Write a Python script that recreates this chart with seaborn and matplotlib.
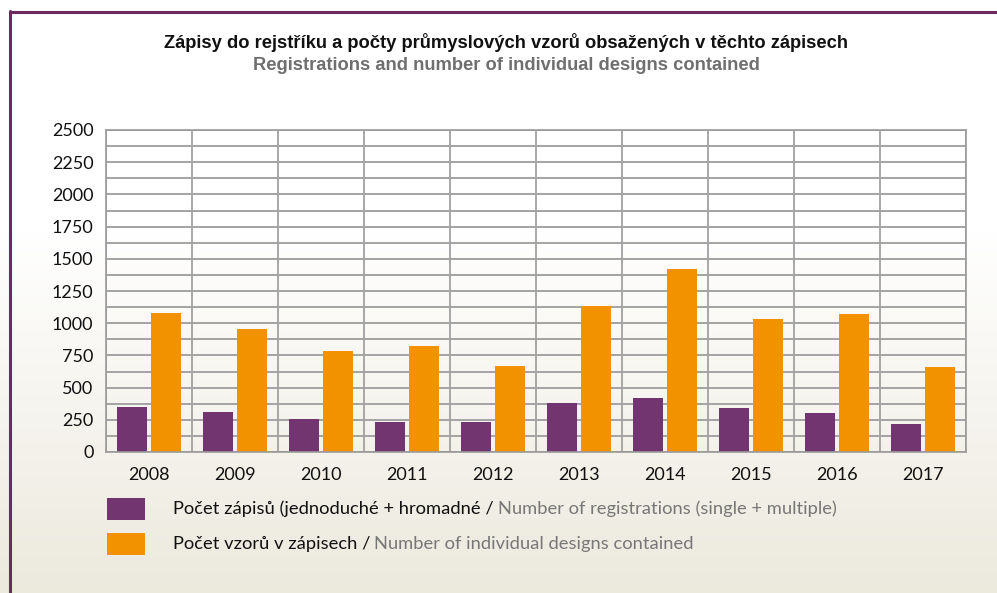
import matplotlib

matplotlib.use("Agg")
import matplotlib.pyplot as plt
import numpy as np
import pandas as pd
import seaborn as sns
from matplotlib.lines import Line2D
from matplotlib.patches import Rectangle

# Data
years = ["2008", "2009", "2010", "2011", "2012", "2013", "2014", "2015", "2016", "2017"]
registrations = [350, 311, 256, 235, 235, 383, 422, 344, 305, 220]
designs = [1079, 955, 787, 823, 668, 1134, 1423, 1035, 1074, 662]
series_names = ["registrations", "designs"]

title_cz = "Zápisy do rejstříku a počty průmyslových vzorů obsažených v těchto zápisech"
title_en = "Registrations and number of individual designs contained"
legend_cz = ["Počet zápisů (jednoduché + hromadné /", "Počet vzorů v zápisech /"]
legend_en = ["Number of registrations (single + multiple)", "Number of individual designs contained"]

purple = "#723570"
orange = "#f39200"
frame = "#6b2b60"
grid_col = "#a3a3a3"

sns.set_style("white")
plt.rcParams["font.family"] = ["Lato", "DejaVu Sans"]

df = pd.DataFrame(
    {
        "year": years * 2,
        "series": [series_names[0]] * len(years) + [series_names[1]] * len(years),
        "value": registrations + designs,
    }
)

fig = plt.figure(figsize=(9.97, 5.93), dpi=100)

# background gradient (white -> beige)
bg = fig.add_axes([0, 0, 1, 1], zorder=-10)
h = 593
rows = np.ones((h, 1, 3))
top = np.array([1.0, 1.0, 1.0])
bot = np.array([236, 233, 221]) / 255
for i in range(h):
    t = max(0.0, (i - 230) / (h - 230))
    rows[i, 0] = top * (1 - t) + bot * t
bg.imshow(rows, aspect="auto", extent=[0, 1, 0, 1], origin="upper")
bg.set_axis_off()

# purple frame (left + top)
fig.add_artist(Line2D([9.5 / 997, 9.5 / 997], [0, 1 - 11 / 593], color=frame, lw=2.2))
fig.add_artist(Line2D([9.5 / 997, 1], [1 - 11.5 / 593, 1 - 11.5 / 593], color=frame, lw=2.2))

ax = fig.add_axes([106 / 997, 1 - 452 / 593, 860 / 997, 322 / 593])
ax.patch.set_alpha(0)

sns.barplot(
    data=df,
    x="year",
    y="value",
    hue="series",
    hue_order=series_names,
    palette=[purple, orange],
    saturation=1,
    width=0.79,
    gap=0.09,
    linewidth=0,
    legend=False,
    ax=ax,
)

ax.set_xlim(-0.5, len(years) - 0.5)
ax.set_ylim(0, 2500)
ax.set_yticks(np.arange(0, 2501, 250))
ax.set_yticks(np.arange(0, 2501, 125), minor=True)
ax.set_xticks(np.arange(-0.5, len(years), 1), minor=True)
ax.set_axisbelow(True)
ax.grid(which="both", axis="y", color=grid_col, lw=1.4)
ax.grid(which="minor", axis="x", color="#9a9a9a", lw=1.2)
ax.grid(which="major", axis="x", visible=False)
for s in ax.spines.values():
    s.set_color("#9a9a9a")
    s.set_linewidth(1.2)
ax.tick_params(which="both", length=0)
ax.tick_params(axis="y", pad=9, labelsize=13, labelcolor="#111111")
ax.tick_params(axis="x", pad=11, labelsize=13, labelcolor="#111111")
ax.set_xlabel("")
ax.set_ylabel("")

# titles
fig.text(0.508, 1 - 42 / 593, title_cz, ha="center", va="center", fontsize=13.2,
         fontweight="bold", family=["Liberation Sans", "DejaVu Sans"], color="#111111")
fig.text(0.508, 1 - 66 / 593, title_en, ha="center", va="center", fontsize=13.2,
         fontweight="bold", family=["Liberation Sans", "DejaVu Sans"], color="#6f6f6f")

# legend drawn by hand (two colours per label)
fig.canvas.draw()
renderer = fig.canvas.get_renderer()
for k, (col, y) in enumerate([(purple, 509), (orange, 544)]):
    fig.add_artist(Rectangle((107 / 997, 1 - (y + 11) / 593), 38 / 997, 22 / 593,
                             transform=fig.transFigure, color=col, lw=0))
    t1 = fig.text(173 / 997, 1 - y / 593, legend_cz[k], ha="left", va="center",
                  fontsize=13.2, color="#111111")
    bb = t1.get_window_extent(renderer)
    fig.text((bb.x1 + 4) / 997, 1 - y / 593, legend_en[k], ha="left", va="center",
             fontsize=13.2, color="#777777")

fig.savefig("out.png", dpi=100)
